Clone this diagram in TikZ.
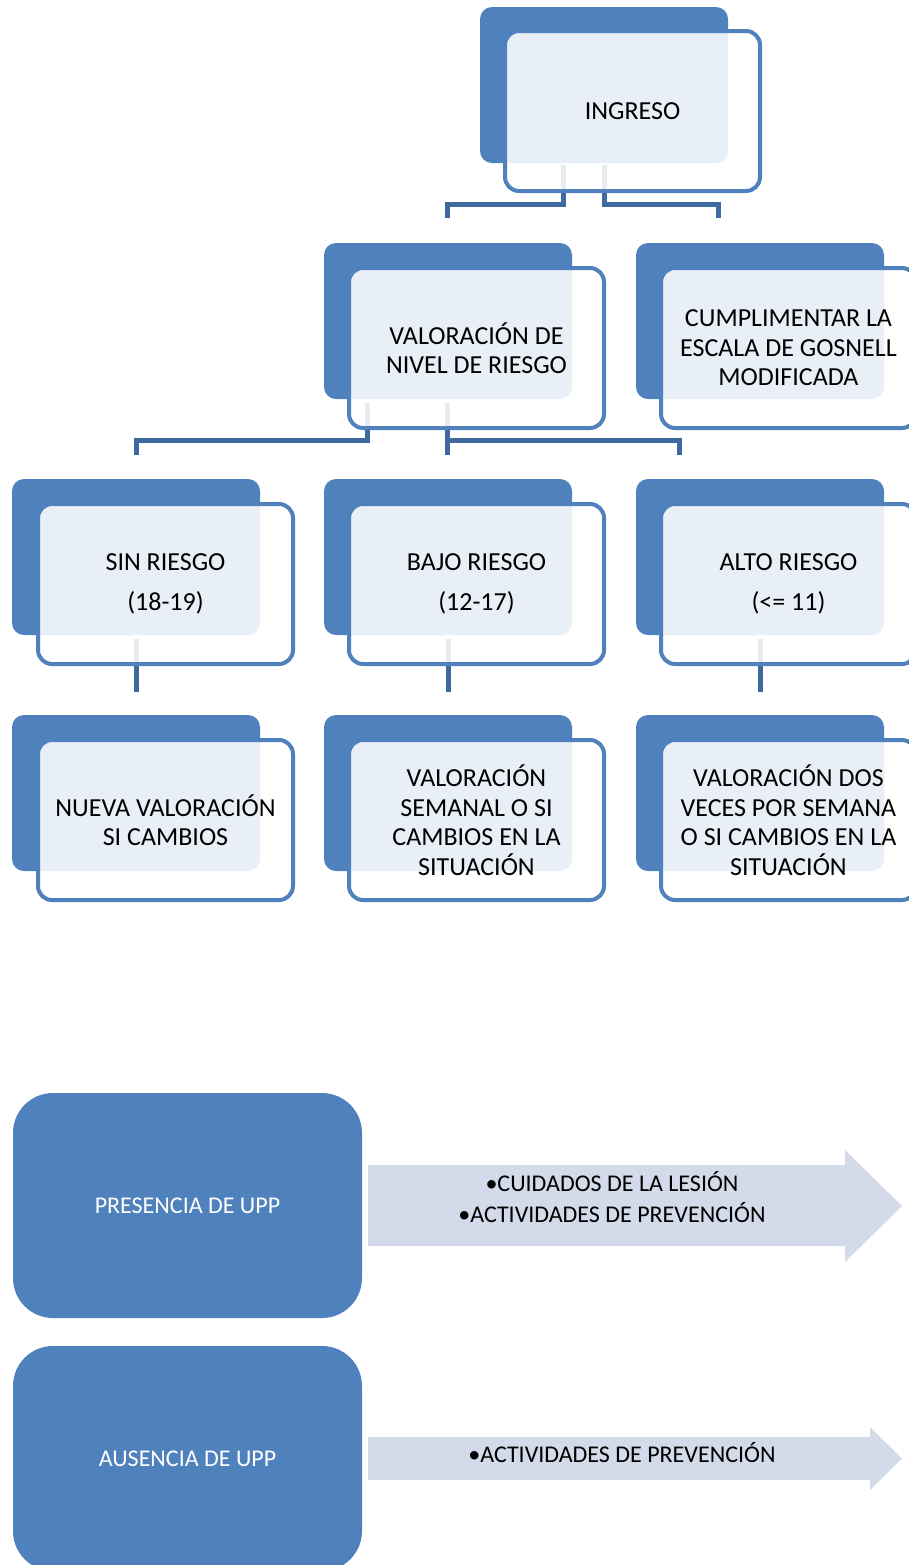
\documentclass[tikz,border=0pt]{standalone}
\usepackage{fontspec}
\setmainfont{Carlito}

\definecolor{accent}{HTML}{4F81BD}
\definecolor{linkblue}{HTML}{3E6A9F}
\definecolor{bandblue}{HTML}{D3DBEA}

\begin{document}
\begin{tikzpicture}[
  x=0.5pt, y=-0.5pt,
  back/.style={
        fill=accent,
        rounded corners=6pt,
        minimum width=124pt,
        minimum height=78pt
  },
  front/.style={
        draw=accent,
        line width=2pt,
        fill=white,
        fill opacity=0.88,
        text opacity=1,
        rounded corners=7pt,
        minimum width=127.5pt,
        minimum height=80pt,
        align=center,
        font=\fontsize{13}{14.75}\selectfont
  },
  link/.style={
        draw=linkblue,
        line width=2.5pt
  },
  status/.style={
        fill=accent,
        rounded corners=20pt,
        minimum width=174.5pt,
        minimum height=112.5pt,
        text=white,
        font=\fontsize{12}{14.5}\selectfont
  },
  bandtext/.style={
        align=center,
        font=\fontsize{12}{15.5}\selectfont
  }
]

    \useasboundingbox (0,0) rectangle (909,1565);

    % back boxes
    \node[back] (ingB) at (604,85) {};
    \node[back] (valB) at (448,321) {};
    \node[back] (cumB) at (760,321) {};
    \node[back] (sinB) at (136,557) {};
    \node[back] (bajB) at (448,557) {};
    \node[back] (altB) at (760,557) {};
    \node[back] (nueB) at (136,793) {};
    \node[back] (semB) at (448,793) {};
    \node[back] (dosB) at (760,793) {};

    \draw[link] ([shift={(-41,2)}]ingB.south) -- ++(0,39) -| ([shift={(-1,-25)}]valB.north);
    \draw[link] ([yshift=-1pt]ingB.south) -- ++(0,39) -| ([shift={(-42,-25)}]cumB.north);
    \draw[link] ([shift={(-81,4)}]valB.south) -- ++(0,37) -| ([yshift=12pt]sinB.north);
    \draw[link] ([shift={(-1,4)}]valB.south) -- ([shift={(-1,-24)}]bajB.north);
    \draw[link] ([shift={(-1,4)}]valB.south) -- ++(0,37) -| ([shift={(-81,-24)}]altB.north);
    \draw[link] ([yshift=-2pt]sinB.south) -- ([yshift=11.5pt]nueB.north);
    \draw[link] ([yshift=-2pt]bajB.south) -- ([yshift=11.5pt]semB.north);
    \draw[link] ([yshift=-2pt]altB.south) -- ([yshift=11.5pt]dosB.north);

    % front boxes
    \node[front] (ing) at (632.5,111) {INGRESO};
    \node[front] (val) at (476.5,348) {VALORACIÓN DE\\NIVEL DE RIESGO};
    \node[front] (cum) at (788.5,348) {CUMPLIMENTAR LA\\ESCALA DE GOSNELL\\MODIFICADA};
    \node[front] (sin) at (165.5,584) {SIN RIESGO\\[5.25pt](18-19)};
    \node[front] (baj) at (476.5,584) {BAJO RIESGO\\[5.25pt](12-17)};
    \node[front] (alt) at (788.5,584) {ALTO RIESGO\\[5.25pt](<= 11)};
    \node[front] (nue) at (165.5,820) {NUEVA VALORACIÓN\\SI CAMBIOS};
    \node[front] (sem) at (476.5,820) {VALORACIÓN\\SEMANAL O SI\\CAMBIOS EN LA\\SITUACIÓN};
    \node[front] (dos) at (788.5,820) {VALORACIÓN DOS\\VECES POR SEMANA\\O SI CAMBIOS EN LA\\SITUACIÓN};

    % lower part
    \node[status] (pres) at (187.5,1205.5) {PRESENCIA DE UPP};
    \node[status] (aus) at (187.5,1458.5) {AUSENCIA DE UPP};

    \fill[bandblue] (368,1165) -- (845,1165) -- (845,1150) -- (902,1206)
        -- (845,1262) -- (845,1246) -- (368,1246) -- cycle;
    \fill[bandblue] (368,1437) -- (870,1437) -- (870,1427) -- (902,1458.5)
        -- (870,1490) -- (870,1480) -- (368,1480) -- cycle;

    \node[bandtext] (presT) at (612,1197) {•CUIDADOS DE LA LESIÓN\\•ACTIVIDADES DE PREVENCIÓN};
    \node[bandtext] (ausT) at (622,1453) {•ACTIVIDADES DE PREVENCIÓN};
\end{tikzpicture}
\end{document}
